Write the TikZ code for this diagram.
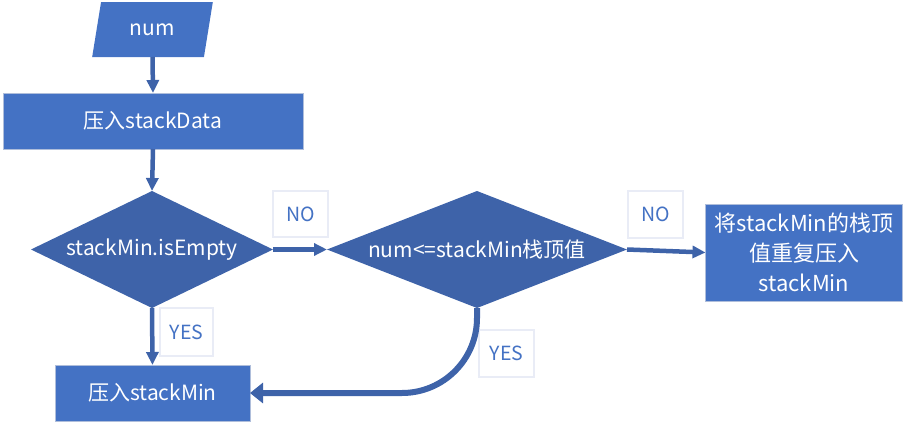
\documentclass[tikz,border=0pt]{standalone}
\usepackage{fontspec}
\setmainfont{Noto Sans CJK SC}
\usetikzlibrary{shapes.geometric,arrows.meta}
\definecolor{bleuboite}{HTML}{4472C4}
\definecolor{bleutest}{HTML}{3E63A9}
\definecolor{bleubord}{HTML}{AFBEDB}
\definecolor{grisetiq}{HTML}{E9ECF6}

\begin{document}
\begin{tikzpicture}[x=1pt,y=-1pt,
	font=\fontsize{21}{30}\selectfont,
	boite/.style={draw=bleubord,line width=1pt,fill=bleuboite,text=white,inner sep=0pt,outer sep=0pt},
	test/.style={diamond,fill=bleutest,text=white,inner sep=0pt,outer sep=0pt},
	etiq/.style={draw=grisetiq,line width=1.5pt,fill=white,text=bleuboite,inner sep=0pt,font=\fontsize{19.5}{24}\selectfont},
	fleche/.style={draw=bleutest,line width=4.5pt,-{Triangle[length=13pt,width=12pt]}}]
	\useasboundingbox (0,0) rectangle (910,423);
	% Entree %
	\node[trapezium,trapezium left angle=72,trapezium right angle=108,trapezium stretches=true,
		fill=bleuboite,text=white,minimum width=121pt,minimum height=55pt,inner sep=0pt,outer sep=0pt] (num) at (152.5,29.5) {num};
	% Boites %
	\node[boite,minimum width=300pt,minimum height=56pt] (pushdata) at (153,121) {压入stackData};
	\node[boite,minimum width=195pt,minimum height=56pt] (pushmin) at (152.5,393) {压入stackMin};
	\node[boite,minimum width=197pt,minimum height=97pt,align=center,font=\fontsize{22}{30}\selectfont] (repush) at (804,252.5) {将stackMin的栈顶\\值重复压入\\stackMin};
	% Tests %
	\node[test,aspect=2.07,minimum width=242pt,minimum height=117pt] (vide) at (152,249.5) {stackMin.isEmpty};
	\node[test,aspect=2.56,minimum width=300pt,minimum height=117pt] (compare) at (477,249.5) {num<=stackMin栈顶值};
	% Etiquettes %
	\node[etiq,minimum width=55pt,minimum height=46pt] (non1) at (300.5,214) {NO};
	\node[etiq,minimum width=55pt,minimum height=47pt] (non2) at (655.5,214.5) {NO};
	\node[etiq,minimum width=53pt,minimum height=48pt] (oui1) at (186.5,332) {YES};
	\node[etiq,minimum width=55pt,minimum height=47pt] (oui2) at (506.5,353.5) {YES};
	% Fleches %
	\draw[fleche] (num.south) -- (pushdata.north);
	\draw[fleche] (pushdata.south) -- (vide.north);
	\draw[fleche] (vide.south) -- (pushmin.north);
	\draw[fleche] (vide.east) -- (compare.west);
	\draw[fleche] (compare.east) -- (repush.west);
	\draw[fleche,line width=6pt,-{Triangle[length=13pt,width=20pt]},rounded corners=75pt] (compare.south) |- (pushmin.east);
\end{tikzpicture}
\end{document}
